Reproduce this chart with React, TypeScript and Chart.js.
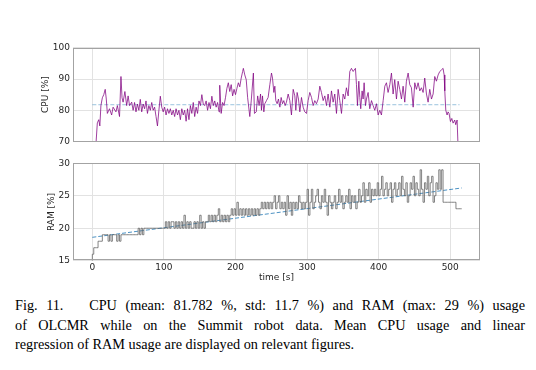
import React, { useEffect, useRef } from "react";
import { Chart, registerables } from "chart.js";

Chart.register(...registerables);

// ---------- data ----------
const xTicks = [0, 100, 200, 300, 400, 500];
const cpuTicks = [70, 80, 90, 100];
const ramTicks = [15, 20, 25, 30];

// CPU usage samples: [time s, CPU %]
const cpuSamples: [number, number][] = [
  [5, 69], [7, 76], [9, 77], [10.5, 75], [12, 81.5], [14, 84], [16, 85], [18, 86.7], [19.5, 83.6], [21, 79],
  [24, 80.5], [27, 78.5], [29, 81], [33, 79.5], [35, 81.5], [38, 78], [40, 90.8], [41.5, 84], [43, 82.6], [45.5, 86],
  [48, 81.5], [50, 84.6], [52, 81.5], [55, 82.6], [57, 80], [59, 82.5], [61, 79.5], [63, 82], [65, 80], [67, 83.5],
  [69, 79.5], [71, 82], [73, 80.5], [75, 83], [77, 79], [79, 81.5], [81, 80], [83, 82.5], [85, 80], [87, 81],
  [89, 78], [91, 75], [93, 80], [95, 84.5], [97, 81], [99, 79.5], [101, 81], [103, 78.5], [105, 80.5], [107, 79],
  [109, 80.5], [111, 78.5], [113, 80], [115, 78], [117, 80.5], [119, 78.5], [121, 80], [123, 77], [125, 80.5], [127, 78.5],
  [129, 80], [131, 76.5], [133, 80.5], [135, 77], [137, 81.5], [139, 79], [141, 82.5], [143, 78], [145, 81], [147, 79],
  [149, 83], [151, 81.5], [153, 85], [155, 82], [157, 81.5], [159, 83], [161, 80], [163, 82.5], [165, 80.5], [167, 84.5],
  [169, 81.5], [171, 83], [173, 81], [175, 82.5], [177, 79.5], [178, 88], [180, 79], [182, 82.5], [184, 81.5], [186, 84],
  [188, 87], [190, 88.8], [192, 86], [194, 88.2], [196, 84.6], [198, 86.7], [200, 85], [202, 87], [204, 88.8], [206, 87.5],
  [208, 90.3], [210, 92.4], [211, 93.4], [213, 91.3], [215, 89.8], [217, 84], [220, 78], [222, 83], [225, 91.9], [226.5, 79],
  [229, 79.5], [231, 84.6], [233, 81.5],
  [235, 85.2], [236.3, 80], [237.7, 84.6], [239.6, 79.5], [241, 82.1], [243.3, 83.1], [245.6, 84.1], [248, 88.2], [250.3, 91.9], [251.7, 90.3],
  [253.6, 85.7], [255, 87.7], [256.3, 83.1], [258.2, 82.1], [260, 83.6], [262, 81], [263.8, 84.1], [265.7, 82.1], [267.5, 83.1], [269.4, 81.5],
  [271.2, 82.6], [273.6, 85.2], [275.9, 83.1], [278.2, 78.5], [280.6, 86.7], [282.9, 84.6], [284.3, 80], [286.1, 85.7], [288, 83.6], [289.9, 79.5],
  [292.2, 84.1], [294.5, 81], [296.8, 79.5], [299.2, 79], [301.5, 83.1], [303.8, 85.7], [306.2, 84.1], [308.5, 81.5], [310.8, 83.1], [313.1, 82.1],
  [315.5, 83.6], [317.8, 87.7], [320.1, 85.7], [322.5, 83.1], [324.8, 84.6], [327.1, 81.5], [329.4, 85.2], [331.8, 81], [334.1, 86.2], [336.4, 82.6],
  [338.7, 85.2], [341.1, 79], [343.4, 86.7], [345.7, 83.1], [348.1, 79], [350.4, 85.2], [352.7, 83.6], [355, 87.2], [357.4, 84.6], [359.7, 92.4],
  [362, 93.4], [364.4, 92.4], [365.8, 92.9], [367.6, 93.4], [369, 88.2], [370.4, 81.5], [372.3, 89.3], [373.7, 84.1], [375, 80.5], [376.9, 86.2],
  [378.3, 83.6], [379.7, 88.8], [381.6, 81.5], [383, 83.6], [385.3, 85.7], [387.6, 80.5], [390, 83.1], [392.3, 81.5], [394.6, 80], [397, 82.1],
  [399.3, 78.5], [401.6, 80], [403.9, 78.5], [406.3, 83.1], [408.6, 87.7], [410.9, 88.8], [413.2, 85.7], [415.6, 88.2], [417.9, 91.9], [420.2, 85.2],
  [422.5, 89.8], [424.9, 83.6], [427.2, 89.3], [429.5, 86.7], [431.9, 83.6], [434.2, 87.7], [436.5, 82.6], [438.8, 89.3], [441.2, 91.9], [443.5, 88.2],
  [445.8, 87.2], [448.2, 81], [450.5, 88.8], [452.8, 86.7], [455.1, 88.8], [457.5, 86.2], [459.8, 87.2], [462.1, 85.7], [464.4, 90.3], [466.8, 85.2],
  [469.1, 82.6], [471.4, 86.7], [473.8, 83.6], [476.1, 85.2], [478.4, 90.8], [480.7, 89.3], [483.1, 91.3], [485.4, 92.4], [487.7, 92.9], [490, 93.4],
  [491.5, 91.3], [492.4, 86.2], [493.8, 80], [495.6, 78.5], [497, 79.5], [498.4, 79], [500.3, 76.4], [502.2, 77.4], [504, 75.9], [506.3, 76.9],
  [507.7, 75.4], [509.6, 76.9], [511, 68],
];

const cpuMean = 81.782;
const cpuMeanSpan = [0, 513];

// RAM usage, one sample every ramStep seconds starting at t = 0
const ramStep = 2;
const ramValues = [
  15, 16, 17, 17, 17, 18, 18, 18, 19, 19, 19, 19,
  18, 19, 18, 19, 19, 19, 18, 19, 18,
  19, 19, 19, 19, 19, 19, 19, 19, 19, 19, 19, 19,
  20, 19, 20, 19, 20,
  20, 20, 20, 20, 20, 20, 20, 20, 20, 20, 20, 20, 20, 20,
  21, 20, 21, 20, 21, 21, 20, 21, 20, 21, 20, 21, 20, 22, 20, 21, 20, 21, 20, 20, 21, 20, 21, 20, 22, 20, 21, 20, 21, 21,
  22, 21, 22, 21, 22, 21, 22, 23, 21, 22, 21, 22, 21, 22, 21, 22, 23, 22,
  23, 22, 24, 22, 23, 22, 23, 22, 23, 22, 23, 22, 23, 22, 23, 22, 23, 22, 23, 24,
  23, 24, 23, 24, 23, 24, 23, 24, 25, 23, 24, 25, 23, 24, 23, 24, 22, 25, 23, 24, 22, 24, 23, 24, 23, 25, 24, 23, 24, 23,
  24, 26, 22, 24, 26, 23, 24, 25, 26, 24, 23, 25, 24, 26, 24, 22, 25, 24, 23,
  24, 25, 23, 24, 26, 24, 25, 23, 24, 25, 24, 26, 23, 25, 24, 25, 23, 24,
  26, 24, 25, 27, 24, 26, 25, 27, 24, 26, 25, 26,
  25, 27, 25, 26, 28, 25, 26, 27, 25, 26, 27, 24, 26, 27, 25, 26, 27, 25, 28, 26, 25, 27, 24, 25, 27, 26, 28, 25, 27, 26, 25, 29, 26, 24, 27, 26, 28, 25, 27, 28, 24, 25, 27, 26, 29, 26, 29,
  24, 24, 24, 24, 24, 24, 24, 24, 24,
  23, 23, 23, 23,
];

// linear regression of RAM: value at the start and end of the run
const ramFitSpan = [0, 516];
const ramFitValues = [18.6, 26.2];

// ---------- helpers ----------
const X_MIN = -27;
const X_MAX = 541.6;
const FONT = { family: "DejaVu Sans", size: 9 };
const TEXT = "#262626";
const GRID = "#e2e2e2";

const framePlugin = {
  id: "frame",
  afterDraw(chart: any) {
    const { ctx, chartArea } = chart;
    const { left, top, right, bottom } = chartArea;
    ctx.save();
    ctx.strokeStyle = "#a3a3a3";
    ctx.lineWidth = 1;
    ctx.strokeRect(Math.round(left) + 0.5, Math.round(top) + 0.5, Math.round(right - left) - 1, Math.round(bottom - top) - 1);
    ctx.restore();
  },
};

function xScale(showLabels: boolean, height: number) {
  return {
    type: "linear",
    min: X_MIN,
    max: X_MAX,
    afterBuildTicks: (s: any) => {
      s.ticks = xTicks.map((v) => ({ value: v }));
    },
    afterFit: (s: any) => {
      s.height = height;
    },
    grid: { color: GRID, drawTicks: false, lineWidth: 1 },
    border: { display: false },
    ticks: { display: showLabels, font: FONT, color: TEXT, padding: 2, maxRotation: 0 },
    title: showLabels
      ? { display: true, text: "time [s]", font: FONT, color: TEXT, padding: { top: 0, bottom: 2 } }
      : { display: false },
  };
}

function yScale(min: number, max: number, ticks: number[], title: string, titlePad: number) {
  return {
    type: "linear",
    min,
    max,
    afterBuildTicks: (s: any) => {
      s.ticks = ticks.map((v) => ({ value: v }));
    },
    afterFit: (s: any) => {
      s.width = 73;
    },
    grid: { color: GRID, drawTicks: false, lineWidth: 1 },
    border: { display: false },
    ticks: { font: FONT, color: TEXT, padding: 3 },
    title: { display: true, text: title, font: FONT, color: TEXT, padding: { top: titlePad, bottom: 0 } },
  };
}

export default function App() {
  const cpuRef = useRef<HTMLCanvasElement>(null);
  const ramRef = useRef<HTMLCanvasElement>(null);

  useEffect(() => {
    const common = {
      responsive: false,
      animation: false as const,
      plugins: { legend: { display: false }, tooltip: { enabled: false } },
      elements: { point: { radius: 0 } },
    };

    const cpuChart = new Chart(cpuRef.current as HTMLCanvasElement, {
      type: "line",
      data: {
        datasets: [
          {
            data: cpuSamples.map(([t, v]) => ({ x: t, y: v })),
            borderColor: "rgba(128,0,128,0.75)",
            borderWidth: 1,
            pointRadius: 0,
            tension: 0,
          },
          {
            data: cpuMeanSpan.map((t) => ({ x: t, y: cpuMean })),
            borderColor: "rgba(31,119,180,0.45)",
            borderWidth: 1,
            borderDash: [4, 2],
            pointRadius: 0,
          },
        ],
      },
      options: {
        ...common,
        layout: { padding: { top: 47.7, right: 56, bottom: 0, left: 0 } },
        scales: {
          x: xScale(false, 6),
          y: yScale(70, 100, cpuTicks, "CPU [%]", 40.6),
        },
      } as any,
      plugins: [framePlugin],
    });

    const ramChart = new Chart(ramRef.current as HTMLCanvasElement, {
      type: "line",
      data: {
        datasets: [
          {
            data: ramValues.map((v, i) => ({ x: i * ramStep, y: v })),
            borderColor: "rgba(100,100,100,0.8)",
            borderWidth: 1,
            pointRadius: 0,
            stepped: "after",
          },
          {
            data: ramFitSpan.map((t, i) => ({ x: t, y: ramFitValues[i] })),
            borderColor: "rgba(31,119,180,0.8)",
            borderWidth: 1,
            borderDash: [4, 2],
            pointRadius: 0,
          },
        ],
      },
      options: {
        ...common,
        layout: { padding: { top: 13.3, right: 56, bottom: 0, left: 0 } },
        scales: {
          x: xScale(true, 24.3),
          y: yScale(15, 30, ramTicks, "RAM [%]", 46.3),
        },
      } as any,
      plugins: [framePlugin],
    });

    return () => {
      cpuChart.destroy();
      ramChart.destroy();
    };
  }, []);

  const justified: React.CSSProperties = {
    textAlign: "justify",
    textAlignLast: "justify" as any,
  };

  return (
    <div style={{ position: "fixed", left: 0, top: 0, width: 536, height: 370, background: "#fff", overflow: "hidden" }}>
      <canvas ref={cpuRef} width={536} height={150} style={{ position: "absolute", left: 0, top: 0, width: 536, height: 150 }} />
      <canvas ref={ramRef} width={536} height={135} style={{ position: "absolute", left: 0, top: 150, width: 536, height: 135 }} />
      <div
        style={{
          position: "absolute",
          left: 15,
          top: 296,
          width: 510,
          fontFamily: "'Liberation Serif', 'Times New Roman', serif",
          fontSize: 14.25,
          lineHeight: "19.5px",
          color: "#000",
        }}
      >
        <div style={justified}>
          Fig. 11.{"\u00a0\u00a0 "}CPU (mean: 81.782 %, std: 11.7 %) and RAM (max: 29 %) usage
        </div>
        <div style={justified}>of OLCMR while on the Summit robot data. Mean CPU usage and linear</div>
        <div>regression of RAM usage are displayed on relevant figures.</div>
      </div>
    </div>
  );
}
